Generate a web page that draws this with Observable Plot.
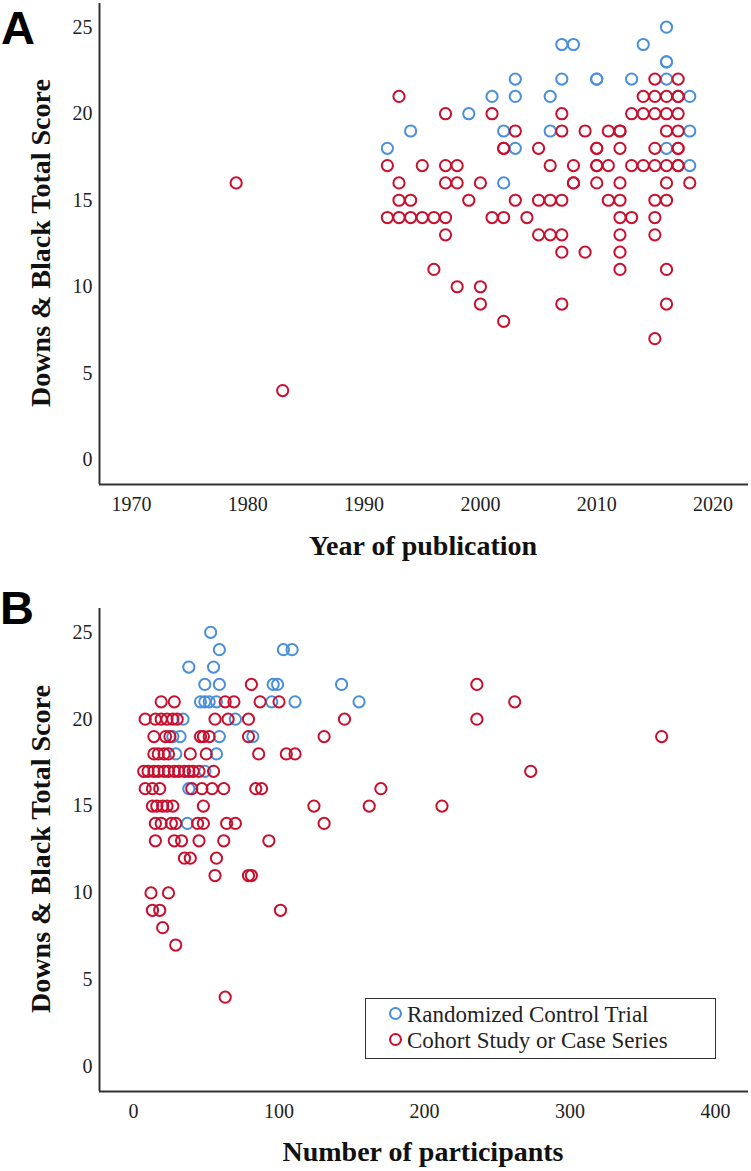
<!DOCTYPE html>
<html>
<head>
<meta charset="utf-8">
<script src="https://cdn.jsdelivr.net/npm/d3@7"></script>
<script src="https://cdn.jsdelivr.net/npm/@observablehq/plot@0.6"></script>
<style>
  html, body { margin: 0; padding: 0; background: #fff; }
  #wrap { position: relative; width: 751px; height: 1171px; overflow: hidden; font-family: "Liberation Serif", "Times New Roman", serif; color: #222; }
  .panel { position: absolute; left: 0; }
  .letter { position: absolute; font-family: "Liberation Sans", Arial, sans-serif; font-weight: bold; font-size: 47px; line-height: 47px; color: #000; }
  .xtitle { position: absolute; font-weight: bold; font-size: 28px; line-height: 28px; white-space: nowrap; transform: translate(-50%, -50%); color: #111; }
  .ytitle { position: absolute; font-weight: bold; font-size: 28px; line-height: 28px; white-space: nowrap; transform: translate(-50%, -50%) rotate(-90deg); color: #111; }
  .legend { position: absolute; box-sizing: border-box; border: 1.5px solid #333; background: #fff; }
  .legend .row { position: absolute; left: 0; height: 25px; line-height: 25px; font-size: 23px; white-space: nowrap; }
  .legend .mk { position: absolute; box-sizing: border-box; width: 13px; height: 13px; border-radius: 50%; border: 2px solid; top: 5px; }
  .legend .tx { position: absolute; }
</style>
</head>
<body>
<div id="wrap"></div>
<script>
// ---------- shared ----------
const groups = ["Randomized Control Trial", "Cohort Study or Case Series"];
const groupColors = ["#4a8fdc", "#c8102e"];
const yTicks = [0, 5, 10, 15, 20, 25];
const yearTicks = [1970, 1980, 1990, 2000, 2010, 2020];
const nTicks = [0, 100, 200, 300, 400];

// ---------- Panel A: year of publication ----------
const rctYear = [2016, 2007, 2008, 2014, 2016, 2016, 2003, 2007, 2010, 2010, 2013, 2016,
  2001, 2003, 2006, 2018, 1999, 1994, 2002, 2006, 2018, 1992, 2003, 2016, 2018, 2002];
const rctYearScore = [25, 24, 24, 24, 23, 23, 22, 22, 22, 22, 22, 22,
  21, 21, 21, 21, 20, 19, 19, 19, 19, 18, 18, 18, 17, 16];

const cohortYear = [
  2015, 2017,
  1993, 2014, 2015, 2016, 2017, 2017,
  1997, 2001, 2007, 2013, 2014, 2015, 2016, 2017,
  2003, 2007, 2009, 2011, 2012, 2012, 2016, 2017,
  2002, 2002, 2005, 2010, 2010, 2012, 2015, 2017, 2017,
  1992, 1995, 1997, 1998, 2006, 2008, 2010, 2010, 2011, 2013, 2014, 2015, 2016, 2017, 2017,
  1979, 1993, 1997, 1998, 2000, 2008, 2008, 2010, 2012, 2016, 2018,
  1993, 1994, 1999, 2003, 2005, 2006, 2007, 2011, 2012, 2015, 2016,
  1992, 1993, 1994, 1995, 1996, 1997, 2001, 2002, 2004, 2012, 2013, 2015,
  1997, 2005, 2006, 2007, 2012, 2015,
  2007, 2009, 2012,
  1996, 2012, 2016,
  1998, 2000,
  2000, 2007, 2016,
  2002,
  2015,
  1983
];
const cohortYearScore = [
  22, 22,
  21, 21, 21, 21, 21, 21,
  20, 20, 20, 20, 20, 20, 20, 20,
  19, 19, 19, 19, 19, 19, 19, 19,
  18, 18, 18, 18, 18, 18, 18, 18, 18,
  17, 17, 17, 17, 17, 17, 17, 17, 17, 17, 17, 17, 17, 17, 17,
  16, 16, 16, 16, 16, 16, 16, 16, 16, 16, 16,
  15, 15, 15, 15, 15, 15, 15, 15, 15, 15, 15,
  14, 14, 14, 14, 14, 14, 14, 14, 14, 14, 14, 14,
  13, 13, 13, 13, 13, 13,
  12, 12, 12,
  11, 11, 11,
  10, 10,
  9, 9, 9,
  8,
  7,
  4
];

// ---------- Panel B: number of participants ----------
const rctN = [53, 59, 103, 109, 38, 55, 49, 59, 96, 99, 143,
  46, 49, 52, 57, 95, 111, 155, 34, 70, 27, 32, 59, 82, 29, 57, 49, 38, 37];
const rctNScore = [25, 24, 24, 24, 23, 23, 22, 22, 22, 22, 22,
  21, 21, 21, 21, 21, 21, 21, 20, 20, 19, 19, 19, 19, 18, 18, 17, 16, 14];

const cohortN = [
  81, 236,
  19, 28, 63, 69, 87, 100, 262,
  8, 15, 19, 23, 27, 30, 56, 65, 79, 145, 236,
  14, 22, 25, 46, 48, 52, 79, 131, 363,
  14, 17, 21, 24, 39, 50, 86, 105, 111,
  7, 10, 14, 17, 21, 24, 28, 31, 35, 38, 41, 45, 55, 273,
  8, 13, 18, 40, 47, 54, 62, 84, 88, 170,
  13, 16, 20, 23, 27, 48, 124, 162, 212,
  15, 19, 26, 29, 44, 48, 64, 70, 131,
  15, 28, 33, 45, 62, 93,
  35, 39, 57,
  56, 79, 81,
  12, 24,
  13, 18, 101,
  20,
  29,
  63
];
const cohortNScore = [
  22, 22,
  21, 21, 21, 21, 21, 21, 21,
  20, 20, 20, 20, 20, 20, 20, 20, 20, 20, 20,
  19, 19, 19, 19, 19, 19, 19, 19, 19,
  18, 18, 18, 18, 18, 18, 18, 18, 18,
  17, 17, 17, 17, 17, 17, 17, 17, 17, 17, 17, 17, 17, 17,
  16, 16, 16, 16, 16, 16, 16, 16, 16, 16,
  15, 15, 15, 15, 15, 15, 15, 15, 15,
  14, 14, 14, 14, 14, 14, 14, 14, 14,
  13, 13, 13, 13, 13, 13,
  12, 12, 12,
  11, 11, 11,
  10, 10,
  9, 9, 9,
  8,
  7,
  4
];

// ---------- drawing ----------
const wrap = document.getElementById("wrap");
const yDomain = [-1.43, 26.37];

function rows(xs, ys, g) { return xs.map((x, i) => ({x, y: ys[i], g})); }

function panel(o) {
  const rct = rows(o.rx, o.ry, groups[0]);
  const coh = rows(o.cx, o.cy, groups[1]);
  const svg = Plot.plot({
    width: 751,
    height: o.height,
    marginLeft: 99,
    marginRight: 3,
    marginTop: o.mt,
    marginBottom: o.mb,
    style: {fontFamily: "'Liberation Serif', 'Times New Roman', serif", fontSize: "20px", color: "#222", background: "transparent", overflow: "visible"},
    x: {domain: o.xDomain, ticks: o.xTicks, tickSize: 0, tickPadding: 12, tickFormat: d => String(d), label: null},
    y: {domain: yDomain, ticks: yTicks, tickSize: 0, tickPadding: 7, tickFormat: d => String(d), label: null},
    color: {domain: groups, range: groupColors},
    marks: [
      Plot.dot(rct, {x: "x", y: "y", r: 5.6, stroke: "g", strokeWidth: 2, fill: "none"}),
      Plot.dot(coh, {x: "x", y: "y", r: 5.6, stroke: "g", strokeWidth: 2, fill: "none"}),
      Plot.ruleX([o.xDomain[0]], {stroke: "#333", strokeWidth: 2}),
      Plot.ruleY([yDomain[0]], {stroke: "#333", strokeWidth: 2})
    ]
  });
  svg.classList.add("panel");
  svg.style.top = o.top + "px";
  wrap.appendChild(svg);
}

panel({rx: rctYear, ry: rctYearScore, cx: cohortYear, cy: cohortYearScore,
  xDomain: [1967.25, 2023.05], xTicks: yearTicks, height: 585, mt: 3, mb: 101, top: 0});
panel({rx: rctN, ry: rctNScore, cx: cohortN, cy: cohortNScore,
  xDomain: [-23.4, 422.7], xTicks: nTicks, height: 586, mt: 23, mb: 80, top: 585});

function addDiv(cls, text, css) {
  const d = document.createElement("div");
  d.className = cls;
  d.textContent = text;
  Object.assign(d.style, css);
  wrap.appendChild(d);
  return d;
}

addDiv("letter", "A", {left: "1px", top: "4px"});
addDiv("letter", "B", {left: "0px", top: "584px"});
addDiv("ytitle", "Downs & Black Total Score", {left: "41px", top: "243px"});
addDiv("ytitle", "Downs & Black Total Score", {left: "41px", top: "849px"});
addDiv("xtitle", "Year of publication", {left: "423px", top: "546px"});
addDiv("xtitle", "Number of participants", {left: "423px", top: "1152px"});

// legend
const leg = document.createElement("div");
leg.className = "legend";
Object.assign(leg.style, {left: "365px", top: "998px", width: "351px", height: "61px"});
groups.forEach((g, i) => {
  const r = document.createElement("div");
  r.className = "row";
  r.style.top = (3 + i * 26) + "px";
  const mk = document.createElement("span");
  mk.className = "mk";
  mk.style.left = "23px";
  mk.style.borderColor = groupColors[i];
  const tx = document.createElement("span");
  tx.className = "tx";
  tx.style.left = "41px";
  tx.textContent = g;
  r.appendChild(mk);
  r.appendChild(tx);
  leg.appendChild(r);
});
wrap.appendChild(leg);
</script>
</body>
</html>
